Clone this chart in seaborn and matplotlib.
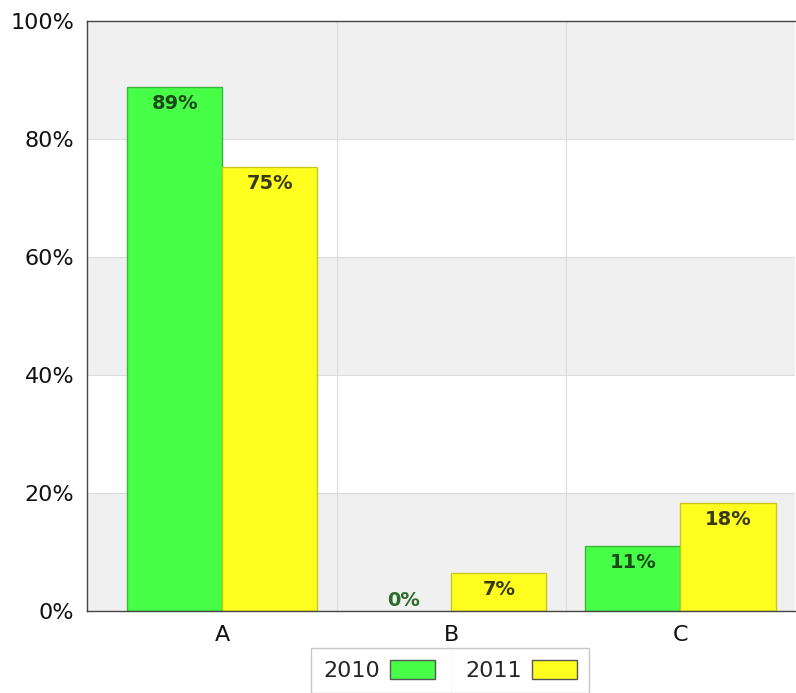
import numpy as np
import pandas as pd
import matplotlib
matplotlib.use('Agg')
import matplotlib.pyplot as plt
import seaborn as sns
from matplotlib.patches import Patch
from matplotlib.lines import Line2D

# Chart data
categories = ['A', 'B', 'C']
years = ['2010', '2011']
values_2010 = [88.8, 0.0, 11.1]
values_2011 = [75.2, 6.4, 18.3]
labels_2010 = ['89%', '0%', '11%']
labels_2011 = ['75%', '7%', '18%']
y_ticks = [0, 20, 40, 60, 80, 100]

bar_colors = {'2010': '#47ff47', '2011': '#ffff1f'}
edge_colors = {'2010': '#3bb53b', '2011': '#c8c81a'}
text_colors = {'2010': '#1c481c', '2011': '#3a3a12'}

df = pd.DataFrame({
    'category': categories * 2,
    'year': [years[0]] * 3 + [years[1]] * 3,
    'value': values_2010 + values_2011,
})
bar_labels = {'2010': labels_2010, '2011': labels_2011}

sns.set_style('white')
plt.rcParams['font.family'] = ['DejaVu Sans']

fig = plt.figure(figsize=(7.96, 6.93), dpi=100)
ax = fig.add_axes([87 / 796, 82 / 693, 708 / 796, 590 / 693])

# alternating background bands
for lo in (0, 40, 80):
    ax.axhspan(lo, lo + 20, color='#f0f0f0', zorder=0, lw=0)
for y in y_ticks[1:-1]:
    ax.axhline(y, color='#dcdcdc', lw=0.8, zorder=0.5)
for x in (0.5, 1.5):
    ax.axvline(x, color='#dcdcdc', lw=0.8, zorder=0.5)

sns.barplot(data=df, x='category', y='value', hue='year', hue_order=years,
            palette=bar_colors, width=0.83, saturation=1, ax=ax,
            legend=False, zorder=2)

for yr, cont in zip(years, ax.containers):
    for patch, lab in zip(cont.patches, bar_labels[yr]):
        cx = patch.get_x() + patch.get_width() / 2
        h = patch.get_height()
        if h > 3:
            patch.set_edgecolor(edge_colors[yr])
            patch.set_linewidth(1.0)
            ax.annotate(lab, (cx, h), xytext=(0, -12), textcoords='offset points',
                        ha='center', va='center', fontsize=14, fontweight='bold',
                        color=text_colors[yr], zorder=3)
        else:
            patch.set_linewidth(0)
            ax.annotate(lab, (cx, h), xytext=(0, 1.0), textcoords='offset points',
                        ha='center', va='bottom', fontsize=14, fontweight='bold',
                        color='#2a6e2a', zorder=3)

ax.set_xlim(-0.59, 2.5)
ax.set_ylim(0, 100)
ax.set_yticks(y_ticks)
ax.set_yticklabels([f'{t}%' for t in y_ticks], fontsize=16, color='#111111')
ax.set_xticks([0, 1, 2])
ax.set_xticklabels(categories, fontsize=16, color='#111111')
ax.set_xticks([0.5, 1.5], minor=True)
ax.tick_params(axis='x', which='major', length=0, pad=10)
ax.tick_params(axis='x', which='minor', length=5, color='#555555', width=0.8)
ax.tick_params(axis='y', length=5, color='#555555', width=0.8, pad=4)
ax.set_xlabel('')
ax.set_ylabel('')

for side in ('left', 'bottom', 'top'):
    ax.spines[side].set_visible(True)
    ax.spines[side].set_color('#444444')
    ax.spines[side].set_linewidth(1.0)
ax.spines['right'].set_visible(False)

handles = [Patch(facecolor=bar_colors[y], edgecolor='#555555', label=y) for y in years]
leg = fig.legend(handles=handles, loc='upper center', bbox_to_anchor=(450 / 796, 45 / 693),
                 ncol=2, markerfirst=False, fontsize=16, frameon=True, fancybox=False,
                 handlelength=2.0, handleheight=0.9, columnspacing=1.4,
                 handletextpad=0.45, borderpad=0.55, borderaxespad=0)
leg.get_frame().set_edgecolor('#bbbbbb')
leg.get_frame().set_linewidth(1.0)
fig.add_artist(Line2D([451 / 796, 451 / 796], [0, 45 / 693], color='#dddddd', lw=0.8,
                      transform=fig.transFigure))

fig.savefig('out.png', dpi=100)
